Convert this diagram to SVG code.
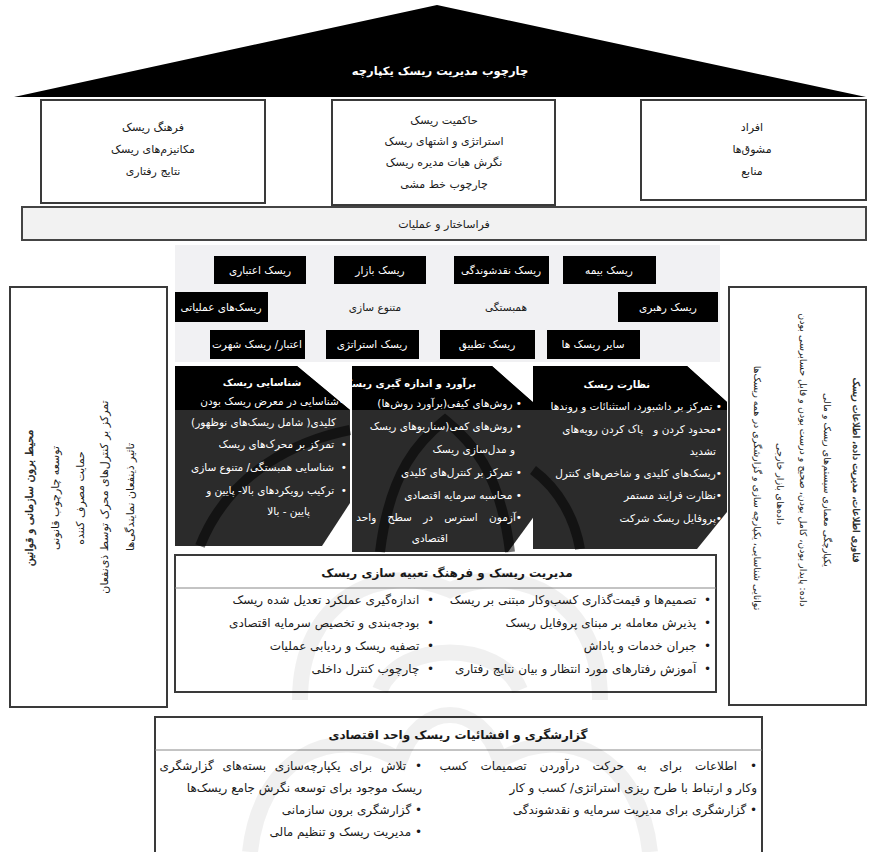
<svg xmlns="http://www.w3.org/2000/svg" width="870" height="852" viewBox="0 0 870 852">
<style>
text { font-family: "DejaVu Sans", sans-serif; font-size: 11px; fill: #1a1a1a; direction: rtl; }
.w { fill: #fff; }
.b { font-weight: bold; }
.sb { stroke: #1a1a1a; stroke-width: 0.35; }
.m { text-anchor: middle; }
.s { text-anchor: start; }
.box { fill: #fff; stroke: #3a3a3a; stroke-width: 2; }
.blk { fill: #000; }
.bl { font-size: 10.5px; fill: #fff; text-anchor: middle; }
.pt { font-size: 10.5px; fill: #fff; text-anchor: start; }
.l { font-size: 12px; text-anchor: start; }
.rv { font-size: 9.5px; text-anchor: middle; }
.wm { fill: none; stroke: #000; stroke-opacity: 0.06; stroke-width: 16; }
.wd { fill: none; stroke: #000; stroke-opacity: 0.55; stroke-width: 10; }
</style>
<defs>
<clipPath id="hc"><rect x="170" y="360" width="565" height="50"/></clipPath>
</defs>

<g id="roof">
<polygon points="14,97 437,5 866,97" fill="#000"/>
<text x="440" y="75" class="w b m" style="font-size:11.5px">چارچوب مدیریت ریسک یکپارچه</text>
</g>

<g id="culture">
<rect x="41" y="100" width="224" height="103" class="box"/>
<text x="153" y="131" class="m">فرهنگ ریسک</text>
<text x="153" y="153" class="m">مکانیزم‌های ریسک</text>
<text x="153" y="175" class="m">نتایج رفتاری</text>
</g>

<g id="governance">
<rect x="332" y="100" width="223" height="105" class="box"/>
<text x="444" y="124" class="m">حاکمیت ریسک</text>
<text x="444" y="145" class="m">استراتژی و اشتهای ریسک</text>
<text x="444" y="166" class="m">نگرش هیات مدیره ریسک</text>
<text x="444" y="188" class="m">چارچوب خط مشی</text>
</g>

<g id="people">
<rect x="641" y="100" width="225" height="100" class="box"/>
<text x="752" y="131" class="m">افراد</text>
<text x="752" y="153" class="m">مشوق‌ها</text>
<text x="752" y="175" class="m">منابع</text>
</g>

<g id="infrastructure">
<rect x="22" y="207" width="844" height="33" fill="#f2f2f2" stroke="#444" stroke-width="2"/>
<text x="444" y="228" class="m">فراساختار و عملیات</text>
</g>

<g id="risk-types">
<rect x="175" y="245" width="545" height="117" fill="#f1f1f3"/>
<rect x="214" y="256" width="92" height="28" class="blk"/><text x="260" y="274" class="bl">ریسک اعتباری</text>
<rect x="334" y="256" width="92" height="28" class="blk"/><text x="380" y="274" class="bl">ریسک بازار</text>
<rect x="454" y="256" width="95" height="28" class="blk"/><text x="501" y="274" class="bl">ریسک نقدشوندگی</text>
<rect x="563" y="256" width="93" height="28" class="blk"/><text x="609" y="274" class="bl">ریسک بیمه</text>
<rect x="175" y="292" width="93" height="30" class="blk"/><text x="221" y="311" class="bl">ریسک‌های عملیاتی</text>
<text x="375" y="311" class="m" style="font-size:10.5px">متنوع سازی</text>
<text x="506" y="311" class="m" style="font-size:10.5px">همبستگی</text>
<rect x="618" y="292" width="100" height="30" class="blk"/><text x="668" y="311" class="bl">ریسک رهبری</text>
<rect x="210" y="330" width="95" height="29" class="blk"/><text x="257" y="348" class="bl">اعتبار/ ریسک شهرت</text>
<rect x="326" y="330" width="93" height="29" class="blk"/><text x="372" y="348" class="bl">ریسک استراتژی</text>
<rect x="440" y="330" width="95" height="29" class="blk"/><text x="487" y="348" class="bl">ریسک تطبیق</text>
<rect x="547" y="330" width="93" height="29" class="blk"/><text x="593" y="348" class="bl">سایر ریسک ها</text>
</g>

<g id="external">
<rect x="10" y="287" width="157" height="420" class="box"/>
<text transform="translate(33,498) rotate(-90)" class="m sb">محیط برون سازمانی و قوانین</text>
<text transform="translate(59,498) rotate(-90)" class="m">توسعه چارچوب قانونی</text>
<text transform="translate(84,498) rotate(-90)" class="m">حمایت مصرف کننده</text>
<text transform="translate(108,497) rotate(-90)" class="m">تمرکز بر کنترل‌های محرک توسط ذی‌نفعان</text>
<text transform="translate(134,497) rotate(-90)" class="m">تاثیر ذینفعان نمایندگی‌ها</text>
</g>

<g id="it">
<rect x="729" y="287" width="137" height="418" class="box"/>
<text transform="translate(853,470) rotate(90)" class="rv sb">فناوری اطلاعات، مدیریت داده، اطلاعات ریسک</text>
<text transform="translate(824,480) rotate(90)" class="rv">یکپارچگی معماری سیستم‌های ریسک و مالی</text>
<text transform="translate(800,460) rotate(90)" class="rv">داده: پایدار بودن، کامل بودن، صحیح و درست بودن و قابل حسابرسی بودن</text>
<text transform="translate(777,484) rotate(90)" class="rv">داده‌های بازار خارجی</text>
<text transform="translate(754,488) rotate(90)" class="rv">توانایی شناسایی، یکپارچه سازی و گزارشگری در همه ریسک‌ها</text>
</g>

<g id="identification">
<polygon points="175,366 297,366 350,410 350,503 322,546 175,546" fill="#2b2b2b"/>
<polygon points="175,366 297,366 350,410 350,503 322,546 175,546" fill="#000" clip-path="url(#hc)"/>
<path d="M200,546 C230,470 300,440 350,430" class="wd"/>
<text x="262" y="386" class="w b m" style="font-size:10px">شناسایی ریسک</text>
<text x="345" y="405" class="pt">•شناسایی در معرض ریسک بودن</text>
<text x="336" y="426" class="pt">کلیدی( شامل ریسک‌های نوظهور)</text>
<text x="347" y="448" class="pt">•&#160;&#160;تمرکز بر محرک‌های ریسک</text>
<text x="347" y="471" class="pt">•&#160;&#160;شناسایی همبستگی/ متنوع سازی</text>
<text x="347" y="494" class="pt">•&#160;&#160;ترکیب رویکردهای بالا- پایین و</text>
<text x="310" y="515" class="pt">پایین - بالا</text>
</g>

<g id="measurement">
<polygon points="352,366 492,366 535,404 535,515 508,552 352,552" fill="#2b2b2b"/>
<polygon points="352,366 492,366 535,404 535,515 508,552 352,552" fill="#000" clip-path="url(#hc)"/>
<path d="M380,552 C390,470 420,440 445,420 C470,440 500,470 510,552" class="wd"/>
<text x="476" y="387" class="w b s" style="font-size:10px">برآورد و اندازه گیری ریسک</text>
<text x="522" y="407" class="pt">•&#160;روش‌های کیفی(برآورد روش‌ها)</text>
<text x="522" y="430" class="pt">•&#160;روش‌های کمی(سناریوهای ریسک</text>
<text x="515" y="453" class="pt">و مدل‌سازی ریسک</text>
<text x="522" y="476" class="pt">•&#160;تمرکز بر کنترل‌های کلیدی</text>
<text x="522" y="499" class="pt">•&#160;محاسبه سرمایه اقتصادی</text>
<text x="522" y="521" class="pt" word-spacing="8">•آزمون استرس در سطح واحد</text>
<text x="448" y="542" class="pt">اقتصادی</text>
</g>

<g id="monitoring">
<polygon points="533,366 687,366 727,402 727,512 697,549 533,549" fill="#2b2b2b"/>
<polygon points="533,366 687,366 727,402 727,512 697,549 533,549" fill="#000" clip-path="url(#hc)"/>
<path d="M533,470 C560,490 575,520 580,549" class="wd"/>
<text x="650" y="388" class="w b s" style="font-size:10px">نظارت ریسک</text>
<text x="722" y="410" class="pt">•&#160;تمرکز بر داشبورد، استثنائات و روندها</text>
<text x="722" y="433" class="pt">•محدود کردن و&#160;&#160; پاک کردن رویه‌های</text>
<text x="716" y="455" class="pt">تشدید</text>
<text x="722" y="477" class="pt">•ریسک‌های کلیدی و شاخص‌های کنترل</text>
<text x="722" y="499" class="pt">•نظارت فرایند مستمر</text>
<text x="722" y="522" class="pt">•پروفایل ریسک شرکت</text>
</g>

<g id="culture-embedding">
<rect x="175" y="555" width="541" height="137" class="box" stroke-width="1.5"/>
<line x1="175" y1="588" x2="716" y2="588" stroke="#888" stroke-width="1"/>
<text x="447" y="577" class="m b" style="font-size:12px">مدیریت ریسک و فرهنگ تعبیه سازی ریسک</text>
<text x="711" y="604" class="l">•&#160;&#160;تصمیم‌ها و قیمت‌گذاری کسب‌وکار مبتنی بر ریسک</text>
<text x="711" y="627" class="l">•&#160;&#160;پذیرش معامله بر مبنای پروفایل ریسک</text>
<text x="711" y="650" class="l">•&#160;&#160;جبران خدمات و پاداش</text>
<text x="711" y="673" class="l">•&#160;&#160;آموزش رفتارهای مورد انتظار و بیان نتایج رفتاری</text>
<text x="434" y="604" class="l">•&#160;&#160;اندازه‌گیری عملکرد تعدیل شده ریسک</text>
<text x="434" y="627" class="l">•&#160;&#160;بودجه‌بندی و تخصیص سرمایه اقتصادی</text>
<text x="434" y="650" class="l">•&#160;&#160;تصفیه ریسک و ردیابی عملیات</text>
<text x="434" y="673" class="l">•&#160;&#160;چارچوب کنترل داخلی</text>
</g>

<g id="reporting">
<rect x="155" y="717" width="607" height="145" class="box" stroke-width="1.5"/>
<line x1="155" y1="750" x2="762" y2="750" stroke="#888" stroke-width="1"/>
<text x="458" y="739" class="m b" style="font-size:12px">گزارشگری و افشائیات ریسک واحد اقتصادی</text>
<text x="757" y="770" class="l" word-spacing="9">•&#160;اطلاعات برای به حرکت درآوردن تصمیمات کسب</text>
<text x="757" y="792" class="l">وکار و ارتباط با طرح ریزی استراتژی/ کسب و کار</text>
<text x="757" y="814" class="l">•&#160;گزارشگری برای مدیریت سرمایه و نقدشوندگی</text>
<text x="422" y="770" class="l" word-spacing="5">•&#160;تلاش برای یکپارچه‌سازی بسته‌های گزارشگری</text>
<text x="422" y="792" class="l">ریسک موجود برای توسعه نگرش جامع ریسک‌ها</text>
<text x="422" y="814" class="l">•&#160;گزارشگری برون سازمانی</text>
<text x="422" y="836" class="l">•&#160;مدیریت ریسک و تنظیم مالی</text>
</g>

<g id="watermark">
<path d="M300,700 C300,600 380,560 450,590 C520,560 600,600 600,700" class="wm"/>
<path d="M250,852 C260,760 330,720 400,760 C420,700 480,700 500,760 C570,720 640,760 650,852" class="wm"/>
<path d="M380,690 C400,640 500,640 520,690" class="wm"/>
</g>
</svg>
